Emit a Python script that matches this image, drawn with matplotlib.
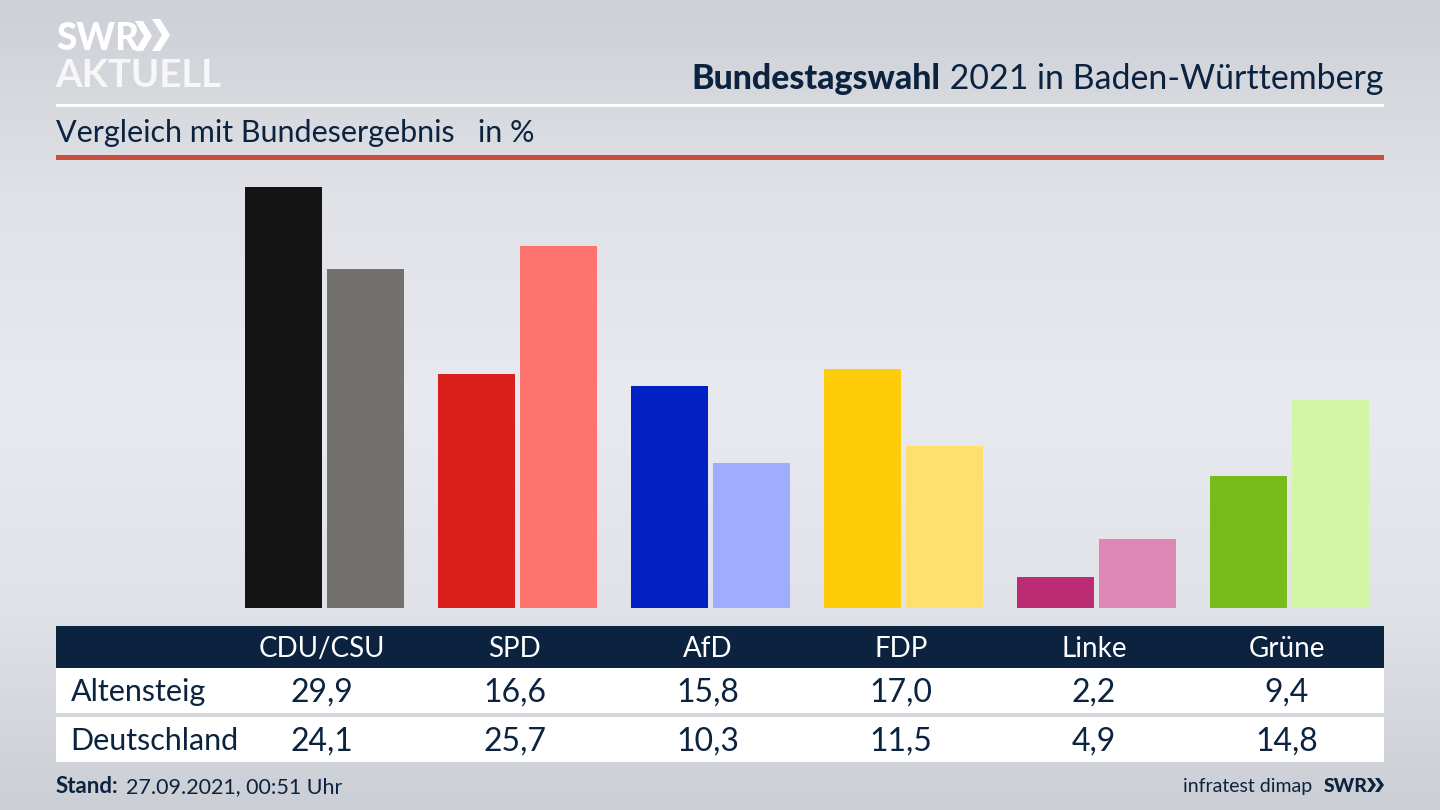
import numpy as np
import matplotlib
matplotlib.use('Agg')
import matplotlib.pyplot as plt
from matplotlib.patches import Polygon, Rectangle

parties = ['CDU/CSU', 'SPD', 'AfD', 'FDP', 'Linke', 'Grüne']
altensteig = [29.9, 16.6, 15.8, 17.0, 2.2, 9.4]
deutschland = [24.1, 25.7, 10.3, 11.5, 4.9, 14.8]
colors_local = ['#141414', '#d81f1c', '#0221c4', '#ffcc0a', '#bb2c74', '#78bc1b']
colors_national = ['#72716e', '#ff736e', '#9fadff', '#ffdf70', '#df88b7', '#d2f5a6']

NAVY = '#0c2340'
plt.rcParams['font.family'] = ['Lato', 'DejaVu Sans']

fig = plt.figure(figsize=(14.4, 8.1), dpi=100)

# whole figure in pixel coordinates, for background, rules and text
bg = fig.add_axes([0, 0, 1, 1])
bg.axis('off')

grad = np.array([0.0, 0.25, 0.5, 0.75, 1.0])
shade = np.array([[205, 208, 214], [224, 226, 231], [233, 234, 239], [224, 226, 231], [203, 206, 212]]) / 255
ys = np.linspace(0, 1, 200)
img = np.stack([np.interp(ys, grad, shade[:, i]) for i in range(3)], axis=1)[:, None, :]
bg.imshow(img, extent=[0, 1440, 810, 0], aspect='auto', zorder=0)
bg.set_xlim(0, 1440)
bg.set_ylim(810, 0)

# rules under the header
bg.add_patch(Rectangle((56, 104), 1328, 3, color='white', lw=0, zorder=1))
bg.add_patch(Rectangle((56, 155), 1328, 5, color='#c9503f', lw=0, zorder=1))

# logo
bg.text(56, 50, 'SWR', color='white', fontsize=26.5, fontweight='black', va='baseline', ha='left', zorder=2)
bg.text(55, 87, 'AKTUELL', color='#f7f7f8', fontsize=27.5, fontweight='bold', va='baseline', ha='left', zorder=2)
for x0, w, yt, yb in [(135, 17, 21, 51), (152, 18, 19, 51)]:
    ym = (yt + yb) / 2
    bg.add_patch(Polygon([(x0, yt), (x0 + 8, yt), (x0 + w, ym), (x0 + 8, yb), (x0, yb), (x0 + w - 8, ym)],
                         color='white', lw=0, zorder=2))

# title, the bold part is measured so the rest can follow it
t_rest = bg.text(1383, 89, ' 2021 in Baden-Württemberg', color=NAVY, fontsize=24.4, ha='right', va='baseline', zorder=2)
fig.canvas.draw()
ext = t_rest.get_window_extent()
bg.text(ext.x0, 89, 'Bundestagswahl', color=NAVY, fontsize=24.4, fontweight='black', ha='right', va='baseline', zorder=2)

bg.text(56, 142, 'Vergleich mit Bundesergebnis   in %', color=NAVY, fontsize=22, ha='left', va='baseline', zorder=2)

# bars
ax = fig.add_axes([56 / 1440, 1 - 608 / 810, 1328 / 1440, 448 / 810])
ax.patch.set_alpha(0)
ax.axis('off')
x = np.arange(len(parties))
w = 76.5 / 193
off = 41.2 / 193
ax.bar(x - off, altensteig, width=w, color=colors_local)
ax.bar(x + off, deutschland, width=w, color=colors_national)
ax.set_xlim((56 - 324.5) / 193, (1384 - 324.5) / 193)
ax.set_ylim(0, 448 / 14.08)

# table below the bars
bg.add_patch(Rectangle((56, 626), 1328, 42, color=NAVY, lw=0, zorder=1))
bg.add_patch(Rectangle((56, 668), 1328, 45, color='white', lw=0, zorder=1))
bg.add_patch(Rectangle((56, 717), 1328, 45, color='white', lw=0, zorder=1))

def fmt(v):
    return f'{v:.1f}'.replace('.', ',')

bg.text(71, 701, 'Altensteig', color=NAVY, fontsize=22, va='baseline', zorder=2)
bg.text(70, 750, 'Deutschland', color=NAVY, fontsize=22, va='baseline', zorder=2)
for i, name in enumerate(parties):
    cx = 321.5 + i * 193.1
    bg.text(cx, 657, name, color='white', fontsize=20, ha='center', va='baseline', zorder=2)
    bg.text(cx, 702, fmt(altensteig[i]), color=NAVY, fontsize=23, ha='center', va='baseline', zorder=2)
    bg.text(cx, 751, fmt(deutschland[i]), color=NAVY, fontsize=23, ha='center', va='baseline', zorder=2)

# footer
bg.text(56, 793, 'Stand:', color=NAVY, fontsize=16, fontweight='bold', va='baseline', zorder=2)
bg.text(126, 793, '27.09.2021, 00:51 Uhr', color=NAVY, fontsize=15.5, va='baseline', zorder=2)
bg.text(1312, 792, 'infratest dimap', color=NAVY, fontsize=14, ha='right', va='baseline', zorder=2)
bg.text(1324, 792, 'SWR', color=NAVY, fontsize=14, fontweight='black', va='baseline', zorder=2)
for x0, w2 in [(1367, 9), (1375, 9)]:
    bg.add_patch(Polygon([(x0, 778), (x0 + 4, 778), (x0 + w2, 785), (x0 + 4, 792), (x0, 792), (x0 + w2 - 4, 785)],
                         color=NAVY, lw=0, zorder=2))

fig.savefig('out.png', dpi=100)
